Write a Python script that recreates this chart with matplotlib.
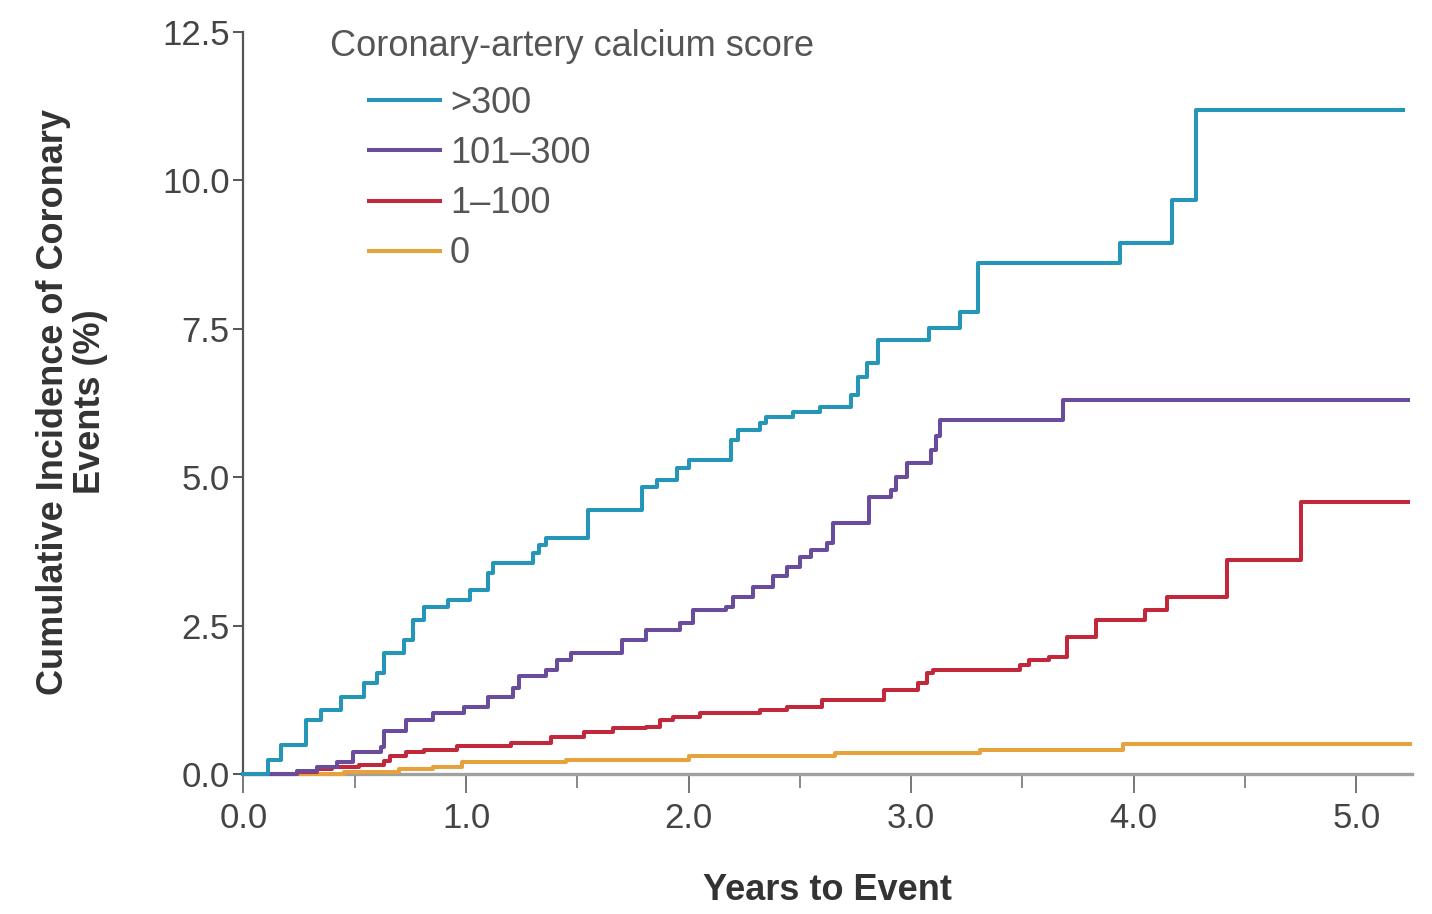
import matplotlib
matplotlib.use("Agg")
import matplotlib.pyplot as plt
from matplotlib.ticker import MultipleLocator

# step curves (years, cumulative %)
t_300 = [0.0, 0.11, 0.17, 0.28, 0.35, 0.44, 0.54, 0.60, 0.63, 0.72, 0.76, 0.81, 0.92, 1.02,
         1.10, 1.12, 1.30, 1.33, 1.36, 1.55, 1.79, 1.86, 1.95, 2.00, 2.19, 2.22, 2.32, 2.35,
         2.47, 2.59, 2.73, 2.76, 2.80, 2.85, 3.08, 3.22, 3.30, 3.94, 4.17, 4.28, 5.21]
y_300 = [0.0, 0.24, 0.49, 0.91, 1.08, 1.30, 1.53, 1.70, 2.04, 2.26, 2.59, 2.81, 2.93, 3.10,
         3.38, 3.55, 3.72, 3.85, 3.97, 4.44, 4.83, 4.95, 5.15, 5.29, 5.62, 5.79, 5.91, 6.01,
         6.09, 6.18, 6.38, 6.68, 6.92, 7.30, 7.51, 7.78, 8.60, 8.94, 9.66, 11.18, 11.18]

t_101 = [0.0, 0.24, 0.33, 0.42, 0.49, 0.62, 0.63, 0.73, 0.85, 0.99, 1.10, 1.21, 1.24, 1.36,
         1.41, 1.47, 1.70, 1.81, 1.96, 2.02, 2.17, 2.20, 2.29, 2.38, 2.44, 2.50, 2.55, 2.62,
         2.65, 2.81, 2.91, 2.93, 2.98, 3.09, 3.11, 3.13, 3.68, 5.23]
y_101 = [0.0, 0.05, 0.12, 0.20, 0.37, 0.45, 0.72, 0.91, 1.03, 1.13, 1.30, 1.45, 1.65, 1.75,
         1.92, 2.04, 2.26, 2.42, 2.54, 2.76, 2.81, 2.98, 3.15, 3.33, 3.48, 3.65, 3.77, 3.89,
         4.22, 4.66, 4.78, 5.00, 5.24, 5.45, 5.70, 5.96, 6.30, 6.30]

t_1 = [0.0, 0.24, 0.33, 0.40, 0.52, 0.63, 0.66, 0.73, 0.81, 0.96, 1.20, 1.38, 1.53, 1.66,
       1.81, 1.87, 1.93, 2.05, 2.32, 2.44, 2.60, 2.88, 3.03, 3.07, 3.10, 3.49, 3.53, 3.62,
       3.70, 3.83, 4.05, 4.15, 4.42, 4.75, 5.23]
y_1 = [0.0, 0.04, 0.08, 0.12, 0.16, 0.22, 0.30, 0.37, 0.41, 0.47, 0.52, 0.63, 0.71, 0.77,
       0.80, 0.91, 0.96, 1.03, 1.08, 1.13, 1.24, 1.41, 1.53, 1.70, 1.75, 1.83, 1.92, 1.97,
       2.31, 2.59, 2.76, 2.98, 3.60, 4.58, 4.58]

t_0 = [0.0, 0.45, 0.70, 0.85, 0.98, 1.45, 2.00, 2.66, 3.31, 3.95, 5.24]
y_0 = [0.0, 0.04, 0.08, 0.12, 0.20, 0.24, 0.30, 0.35, 0.40, 0.50, 0.50]

LABELS = [">300", "101\u2013300", "1\u2013100", "0"]
COLORS = ["#2596b8", "#6a4c9c", "#c2283c", "#e6a23c"]

x_ticks = [0, 1, 2, 3, 4, 5]
y_ticks = [0, 2.5, 5.0, 7.5, 10.0, 12.5]

plt.rcParams["font.family"] = ["Liberation Sans", "DejaVu Sans"]

fig = plt.figure(figsize=(14.32, 9.14), dpi=100)
ax = fig.add_axes([0.170, 0.153, 0.816, 0.8125])

series = [(t_300, y_300), (t_101, y_101), (t_1, y_1), (t_0, y_0)]
for i in [3, 2, 1, 0]:
    t, y = series[i]
    ax.step(t, y, where="post", color=COLORS[i], linewidth=2.9,
            label=LABELS[i], clip_on=False, zorder=3 + (3 - i))

ax.set_xlim(0, 5.25)
ax.set_ylim(0, 12.5)

ax.spines["top"].set_visible(False)
ax.spines["right"].set_visible(False)
ax.spines["left"].set_color("#555555")
ax.spines["left"].set_linewidth(1.6)
ax.spines["bottom"].set_color("#a0a0a0")
ax.spines["bottom"].set_linewidth(2.4)

ax.set_xticks(x_ticks, [f"{x:.1f}" for x in x_ticks])
ax.xaxis.set_minor_locator(MultipleLocator(0.5))
ax.set_yticks(y_ticks, [f"{y:.1f}" for y in y_ticks])

ax.tick_params(axis="x", which="major", length=14, width=1.4, color="#777777",
               pad=6, labelsize=25, labelcolor="#444444")
ax.tick_params(axis="x", which="minor", length=10, width=1.4, color="#888888")
ax.tick_params(axis="y", length=7, width=1.4, color="#555555",
               pad=3, labelsize=25, labelcolor="#444444")

fig.text(0.050, 0.56, "Cumulative Incidence of Coronary\nEvents (%)", rotation=90,
         ha="center", va="center", multialignment="center",
         fontsize=26, fontweight="bold", color="#333333", linespacing=1.08)
fig.text(0.578, 0.026, "Years to Event", ha="center", va="center",
         fontsize=26, fontweight="bold", color="#333333")

fig.text(0.2304, 0.9486, "Coronary-artery calcium score", ha="left", va="center",
         fontsize=26, color="#555555")
h, l = ax.get_legend_handles_labels()
order = [l.index(s) for s in LABELS]
ax.legend([h[k] for k in order], [l[k] for k in order],
          loc="upper left", bbox_to_anchor=(0.258, 0.906), bbox_transform=fig.transFigure,
          frameon=False, fontsize=26, handlelength=1.95, handletextpad=0.28,
          labelspacing=0.42, borderpad=0, borderaxespad=0, labelcolor="#555555")

fig.savefig("out.png", dpi=100)
